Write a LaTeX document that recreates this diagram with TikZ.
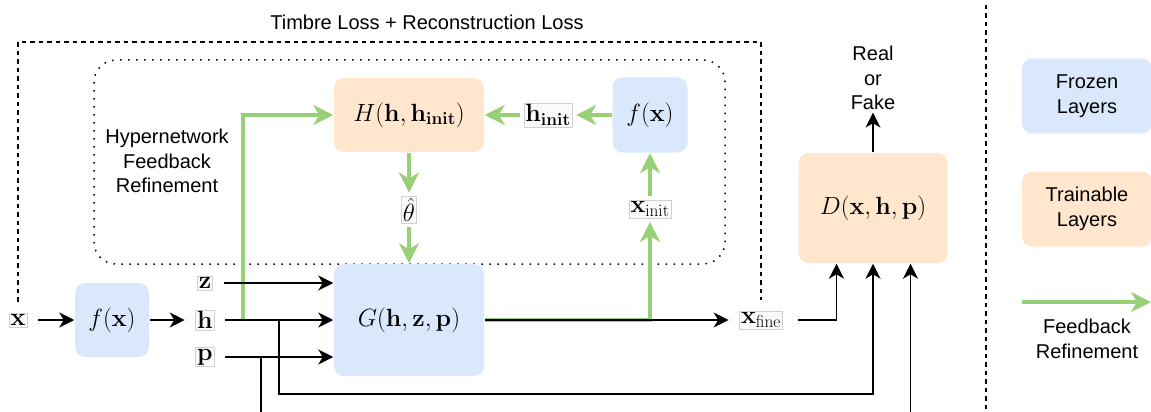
\documentclass[tikz,border=0pt]{standalone}
\usepackage[no-math]{fontspec}
\setmainfont{Liberation Sans}
\usetikzlibrary{arrows.meta}
\definecolor{frozenblue}{HTML}{DAE8FC}
\definecolor{trainorange}{HTML}{FFE6CC}
\definecolor{fbgreen}{HTML}{97D077}
\newcommand\boxmath{\fontsize{23}{27}\selectfont}
\newcommand\labeltext{\fontsize{20}{24.5}\selectfont}
\tikzstyle{frozen}=[rectangle, rounded corners=10pt, fill=frozenblue, font=\boxmath]
\tikzstyle{trainable}=[rectangle, rounded corners=10pt, fill=trainorange, font=\boxmath]
\tikzstyle{varbox}=[rectangle, draw=black!18, fill=black!2, line width=0.6pt, inner sep=1.5pt, outer sep=4pt, font=\boxmath]
\tikzstyle{iolabel}=[varbox, outer sep=11pt]
\tikzstyle{arr}=[-{Stealth[length=15pt, width=15pt, inset=4.5pt]}]
\tikzstyle{fb}=[draw=fbgreen, line width=3.5pt, -{Stealth[length=20pt, width=20pt, inset=6pt]}]
\tikzstyle{loss}=[dash pattern=on 4.5pt off 4pt]
\tikzstyle{hyper}=[dash pattern=on 1.5pt off 6.5pt, rounded corners=22pt]

\begin{document}
\begin{tikzpicture}[x=1pt, y=-1pt, line width=1.5pt, font=\labeltext]
\useasboundingbox (0,0) rectangle (1151,412);
% Hypernetwork loop
    \draw[hyper] (94,60) rectangle (725,264);
    \node at (167,161) [align=center] (hyperlabel) {Hypernetwork\\Feedback\\Refinement};
% Blocks
    \node[frozen, minimum width=74pt, minimum height=74pt] at (112,320) (fx) {$f(\mathbf{x})$};
    \node[frozen, minimum width=150pt, minimum height=112pt] at (409,320) (G) {$G(\mathbf{h},\mathbf{z},\mathbf{p})$};
    \node[trainable, minimum width=150pt, minimum height=74pt] at (409,115) (H) {$H(\mathbf{h},\mathbf{h}_{\mathbf{init}})$};
    \node[frozen, minimum width=75pt, minimum height=75pt] at (650,115) (ftop) {$f(\mathbf{x})$};
    \node[trainable, minimum width=149pt, minimum height=110pt] at (873,208) (D) {$D(\mathbf{x},\mathbf{h},\mathbf{p})$};
    \node[align=center, inner sep=2pt] at (873,78) (realfake) {Real\\or\\Fake};
% Variables
    \node[iolabel] at (18,320) (xin) {$\mathbf{x}$};
    \node[iolabel] at (205,283) (z) {$\mathbf{z}$};
    \node[iolabel] at (205,320) (h) {$\mathbf{h}$};
    \node[iolabel] at (205,357) (p) {$\mathbf{p}$};
    \node[iolabel] at (761,320) (xfine) {$\mathbf{x}_{\mathrm{fine}}$};
    \node[varbox] at (548,115) (hinit) {$\mathbf{h}_{\mathbf{init}}$};
    \node[varbox] at (409,210) (theta) {$\hat{\theta}$};
    \node[varbox] at (650,209) (xinit) {$\mathbf{x}_{\mathrm{init}}$};
    \coordinate (hsplit) at (279,320);
    \coordinate (psplit) at (261,357);
    \coordinate (hfb) at (243,320);
    \coordinate (losstop) at (0,42);
% Loss path
    \draw[loss] (xin.north) -- (xin.north |- losstop) -| (xfine.north);
    \node at (427,22) (losslabel) {Timbre Loss + Reconstruction Loss};
% Feedback refinement
    \draw[fb] (hfb) |- (H.west);
    \draw[fb] (G.east) -| (xinit.south);
    \draw[fb] (xinit) -- (ftop);
    \draw[fb] (ftop) -- (hinit);
    \draw[fb] (hinit) -- (H);
    \draw[fb] (H) -- (theta);
    \draw[fb] (theta) -- (G);
% Forward pass
    \draw[arr] (xin) -- (fx);
    \draw[arr] (fx) -- (h);
    \draw[arr] (z) -- (G.west |- z);
    \draw[arr] (h) -- (G);
    \draw[arr] (p) -- (G.west |- p);
    \draw[arr] (G) -- (xfine);
    \draw[arr] ([xshift=5pt]xfine.east) -| ([xshift=-36.5pt]D.south);
    \draw[arr] (hsplit) -- ++(0,74) -| (D.south);
    \draw[arr] (psplit) -- ++(0,70) -| ([xshift=37.5pt]D.south);
    \draw[arr] (D) -- (realfake);
% Legend
    \draw[loss] (986,5) -- (986,420);
    \node[frozen, font=\labeltext, align=center, minimum width=130pt, minimum height=75pt] at (1087,96) (legfrozen) {Frozen\\Layers};
    \node[trainable, font=\labeltext, align=center, minimum width=130pt, minimum height=75pt] at (1087,209) (legtrain) {Trainable\\Layers};
    \draw[fb] (1022,302) -- (1151,302);
    \node[align=center] at (1087,339) (legfb) {Feedback\\Refinement};
\end{tikzpicture}
\end{document}
